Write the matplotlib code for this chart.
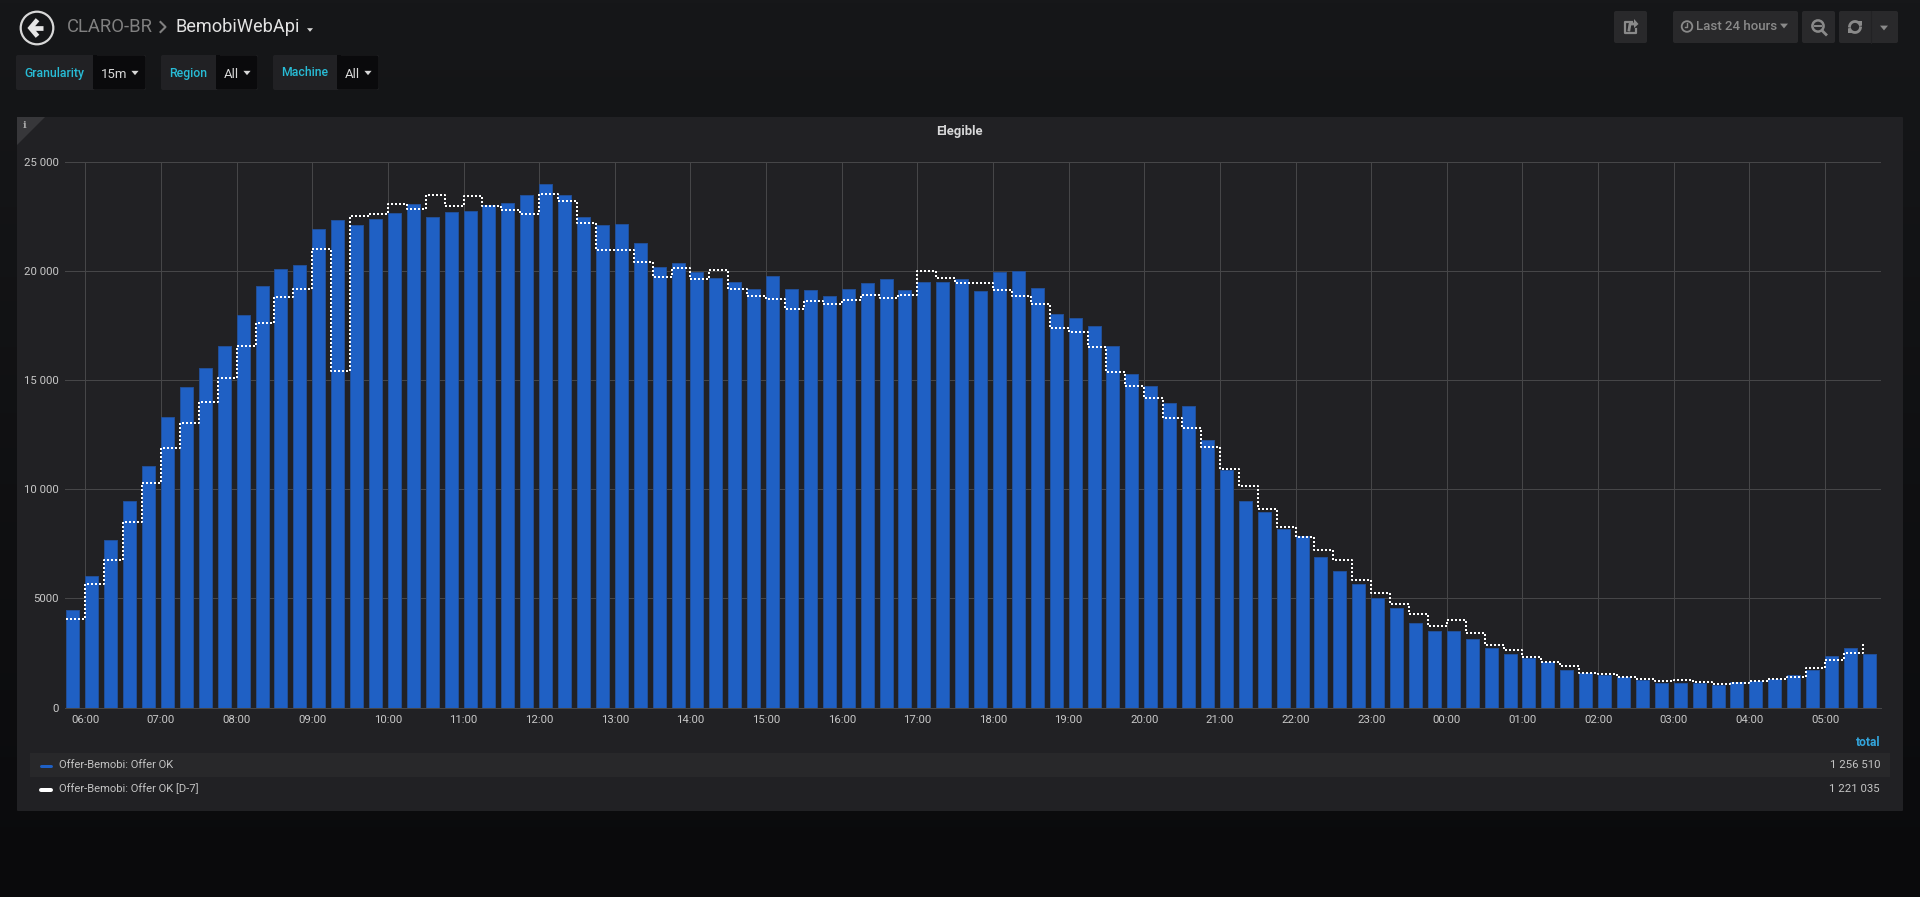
import numpy as np
import matplotlib
matplotlib.use("Agg")
import matplotlib.pyplot as plt
from matplotlib.patches import Rectangle, Polygon, Circle, FancyBboxPatch

W, H = 1920, 897
plt.rcParams['font.family'] = ['Roboto', 'DejaVu Sans']

# ---- data ----
offer_ok = [4490, 6042, 7694, 9480, 11082, 13335, 14687, 15572, 16556, 17975, 19327, 20078,
            20278, 21930, 22331, 22098, 22398, 22648, 23066, 22481, 22698, 22765, 23032, 23115,
            23486, 23975, 23486, 22477, 22125, 22140, 21285, 20183, 20352, 19954, 19679, 19510,
            19174, 19786, 19174, 19129, 18869, 19174, 19434, 19633, 19129, 19510, 19495, 19648,
            19083, 19970, 20000, 19235, 18043, 17829, 17462, 16575, 15275, 14740, 13945, 13838,
            12263, 10887, 9465, 8960, 8195, 7860, 6896, 6254, 5642, 5015, 4572, 3868,
            3486, 3501, 3134, 2722, 2431, 2278, 2064, 1712, 1575, 1468, 1391, 1269,
            1131, 1131, 1101, 1024, 1147, 1193, 1284, 1498, 1712, 2339, 2706, 2462]
offer_ok_d7 = [4056, 5641, 6760, 8512, 10298, 11900, 13035, 13986, 15104, 16573, 17641, 18810,
               19176, 21012, 15438, 22515, 22631, 23082, 22865, 23500, 22999, 23433, 23000, 22815,
               22630, 23547, 23226, 22187, 20948, 20964, 20413, 19710, 20122, 19633, 20046, 19190,
               18869, 18716, 18272, 18639, 18502, 18685, 18915, 18777, 18900, 20015, 19664, 19450,
               19434, 19113, 18853, 18471, 17370, 17187, 16514, 15398, 14740, 14175, 13287, 12814,
               11942, 10933, 10138, 9113, 8288, 7813, 7232, 6743, 5841, 5260, 4755, 4266,
               3746, 4021, 3410, 2844, 2645, 2309, 2095, 1911, 1575, 1544, 1407, 1315,
               1223, 1238, 1162, 1070, 1101, 1208, 1300, 1376, 1804, 2171, 2492, 3012]
hour_labels = ["06:00", "07:00", "08:00", "09:00", "10:00", "11:00", "12:00", "13:00",
               "14:00", "15:00", "16:00", "17:00", "18:00", "19:00", "20:00", "21:00",
               "22:00", "23:00", "00:00", "01:00", "02:00", "03:00", "04:00", "05:00"]
y_ticks = [0, 5000, 10000, 15000, 20000, 25000]
y_labels = ["0", "5000", "10 000", "15 000", "20 000", "25 000"]
series_names = ["Offer-Bemobi: Offer OK", "Offer-Bemobi: Offer OK [D-7]"]
series_totals = ["1 256 510", "1 221 035"]

BLUE = '#1f60c4'
GRID = '#464648'
TXT = '#c8c8c8'
PANEL = '#212124'
px = 0.72  # points per pixel at dpi=100

fig = plt.figure(figsize=(W / 100, H / 100), dpi=100, facecolor='#111214')

# ---- page chrome, in pixel coordinates ----
bg = fig.add_axes([0, 0, 1, 1], zorder=0)
bg.set_xlim(0, W); bg.set_ylim(H, 0); bg.axis('off')
c0, c1 = np.array([22, 23, 25]), np.array([10, 10, 12])
grad = np.linspace(0, 1, 256)[:, None, None] * (c1 - c0) + c0
bg.imshow(grad.astype(np.uint8), extent=(0, W, H, 0), aspect='auto', zorder=0)
bg.set_xlim(0, W); bg.set_ylim(H, 0)


def rect(x0, y0, x1, y1, color, z=1, rounded=0):
    if rounded:
        bg.add_patch(FancyBboxPatch((x0 + rounded, y0 + rounded), x1 - x0 - 2 * rounded, y1 - y0 - 2 * rounded,
                                    boxstyle=f"round,pad={rounded},rounding_size={rounded}",
                                    fc=color, ec='none', zorder=z))
    else:
        bg.add_patch(Rectangle((x0, y0), x1 - x0, y1 - y0, fc=color, ec='none', zorder=z))


def label(x, y, s, size, color, ha='left', weight='normal'):
    bg.text(x, y, s, fontsize=size * px, color=color, ha=ha, va='center', weight=weight, zorder=6)


def caret(x, y, w, color):
    bg.add_patch(Polygon([(x - w, y - w * 0.6), (x + w, y - w * 0.6), (x, y + w * 0.6)], fc=color, ec='none', zorder=6))


# back button
bg.add_patch(Circle((37, 28), 16.3, fc='none', ec='#d8d8d8', lw=1.6, zorder=5))
bg.plot([30, 43], [28, 28], color='#e6e6e6', lw=3.4, solid_capstyle='butt', zorder=6)
bg.plot([36, 30.5, 36], [21.5, 28, 34.5], color='#e6e6e6', lw=3.4, solid_joinstyle='miter', zorder=6)
# breadcrumb
label(67, 27.5, "CLARO-BR", 18.5, '#808080')
bg.plot([160.5, 165.5, 160.5], [22, 27, 32], color='#808080', lw=1.5, zorder=6)
label(175.5, 27.5, "BemobiWebApi", 18.2, '#e3e3e3')
caret(310, 30, 3, '#d8d8d8')

# template variables
variables = [("Granularity", "15m", 16, 93, 146), ("Region", "All", 161, 216, 258), ("Machine", "All", 273, 337, 379)]
for name, val, x0, x1, x2 in variables:
    rect(x0, 55, x2, 90, '#212124', 1, 2)
    rect(x1, 55.5, x2 - 0.5, 89.5, '#0a0a0c', 2, 2)
    rect(x1, 55.5, x1 + 4, 89.5, '#0a0a0c', 2)
    label(x0 + 8.5, 73, name, 12.2, '#28bcd6', weight='medium')
    label(x1 + 8, 74, val, 13.3, '#d8d8d8')
    caret(x2 - 11, 73, 3.6, '#d8d8d8')

# top right buttons
BTN = '#29292b'
BT = '#8a8a8a'
rect(1614, 11, 1647, 43, BTN, 1, 2)
rect(1673, 11, 1798, 43, BTN, 1, 2)
rect(1802, 11, 1835, 43, BTN, 1, 2)
rect(1839, 11, 1898, 43, BTN, 1, 2)
bg.plot([1871, 1871], [11, 43], color='#222224', lw=0.8, zorder=3)
# share icon
bg.plot([1632, 1625, 1625, 1636, 1636], [22, 22, 33, 33, 29], color=BT, lw=1.6, zorder=6)
bg.plot([1629, 1630, 1635], [30, 24, 24], color=BT, lw=2, zorder=6)
bg.add_patch(Polygon([(1634, 19), (1638.5, 24), (1634, 28)], fc=BT, ec='none', zorder=6))
# clock
bg.add_patch(Circle((1687, 26.5), 5.3, fc='none', ec=BT, lw=1.3, zorder=6))
bg.plot([1687, 1687, 1684.5], [23.5, 27, 27], color=BT, lw=1, zorder=6)
label(1696, 27, "Last 24 hours", 13.2, BT, weight='medium')
caret(1784, 26, 4, BT)
# zoom out
bg.add_patch(Circle((1818, 26), 5.6, fc='none', ec=BT, lw=1.8, zorder=6))
bg.plot([1815, 1821], [26, 26], color=BT, lw=1.4, zorder=6)
bg.plot([1822, 1826], [30.5, 34.5], color=BT, lw=2, zorder=6)
# refresh
t = np.linspace(0.15, 2.7, 20)
bg.plot(1855 + 5.5 * np.cos(t + np.pi), 27 + 5.5 * np.sin(t + np.pi), color=BT, lw=2, zorder=6)
bg.plot(1855 + 5.5 * np.cos(t), 27 + 5.5 * np.sin(t), color=BT, lw=2, zorder=6)
bg.add_patch(Polygon([(1856, 21), (1862, 21), (1862, 26)], fc=BT, ec='none', zorder=6))
bg.add_patch(Polygon([(1848, 28), (1854, 33), (1848, 33)], fc=BT, ec='none', zorder=6))
caret(1884, 28, 4, BT)

# panel
rect(17, 117, 1903, 811, PANEL, 1, 1)
bg.add_patch(Polygon([(17, 117), (45, 117), (17, 145)], fc='#37373a', ec='none', zorder=2))
bg.text(25, 125.5, "i", fontsize=10 * px, color='#a8a8a8', ha='center', va='center',
        family='DejaVu Serif', weight='bold', zorder=6)
label(959.5, 131, "Elegible", 13, '#d8d8d9', ha='center', weight='bold')

# legend
rect(30, 753, 1890, 777, '#28282a', 2)
label(1880, 743, "total", 12, '#33a5dc', ha='right', weight='bold')
swatches = [(BLUE, 3.0), ('#ffffff', 4.0)]
for (col, thick), nm, tot, y in zip(swatches, series_names, series_totals, [765, 789]):
    bg.plot([41, 51], [y + 1, y + 1], color=col, lw=thick * px, solid_capstyle='round', zorder=6)
    label(59, y - 0.5, nm, 11.2, '#c4c4c4')
    label(1880, y - 0.5, tot, 11.4, '#c4c4c4', ha='right')

# ---- the chart ----
PX_L, PX_R, PX_T, PX_B = 65, 1881, 162, 707.5
ax = fig.add_axes([PX_L / W, 1 - PX_B / H, (PX_R - PX_L) / W, (PX_B - PX_T) / H], zorder=2)
ax.patch.set_alpha(0)
slot = 18.91
x = np.arange(len(offer_ok))
ax.set_xlim((PX_L - 66.4) / slot, (PX_R - 66.4) / slot)
ax.set_ylim(0, 25000)
ax.bar(x, offer_ok, width=13.0 / slot, align='edge', color=BLUE, edgecolor='#224f98', linewidth=0.7, zorder=3)
ax.plot(x, offer_ok_d7, drawstyle='steps-post', color='white', lw=2 * px,
        linestyle=(0, (1, 1)), dash_capstyle='butt', zorder=4)

hour_ticks = x[1::4]
ax.set_xticks(hour_ticks, hour_labels)
ax.set_yticks(y_ticks, y_labels)
ax.grid(True, color=GRID, lw=0.75, zorder=1)
ax.set_axisbelow(True)
for s in ax.spines.values():
    s.set_visible(False)
ax.spines['bottom'].set_visible(True)
ax.spines['bottom'].set_color(GRID)
ax.spines['bottom'].set_linewidth(0.75)
ax.spines['bottom'].set_zorder(5)
ax.tick_params(axis='both', length=0, labelcolor=TXT, labelsize=11.4 * px)
ax.tick_params(axis='x', pad=7 * 0.72)
ax.tick_params(axis='y', pad=6 * 0.72)

fig.savefig('out.png', dpi=100, facecolor=fig.get_facecolor())
